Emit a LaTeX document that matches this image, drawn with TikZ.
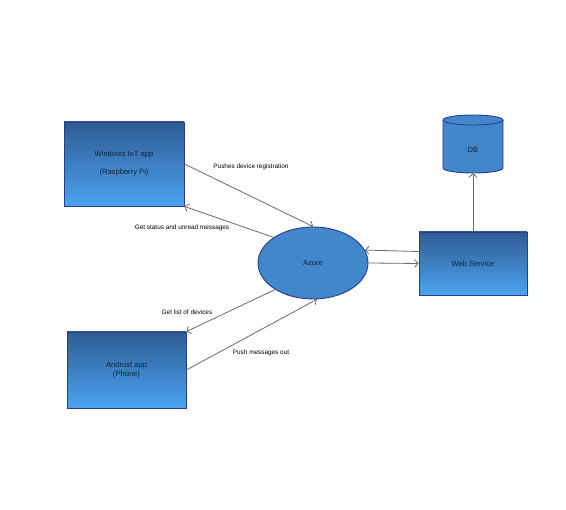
\documentclass[tikz,border=0pt]{standalone}
\usepackage{fontspec}
\setmainfont{Liberation Sans}
\usetikzlibrary{arrows.meta,shapes.geometric}
\definecolor{boxtop}{HTML}{2F5C94}
\definecolor{boxbot}{HTML}{4BA3F0}
\definecolor{boxline}{HTML}{2A3D8A}
\definecolor{ellfill}{HTML}{4286CC}
\definecolor{txt}{HTML}{14213D}
\definecolor{conn}{HTML}{6A6A6A}
\tikzset{
  gbox/.style={rectangle, draw=boxline, line width=0.9pt, top color=boxtop, bottom color=boxbot,
    text=txt, font=\fontsize{7.6}{9}\selectfont, align=center, inner sep=0pt},
  conn/.style={draw=conn, line width=0.8pt, -{Straight Barb[length=3.5pt,width=8pt]}},
  lbl/.style={font=\fontsize{6.4}{7.5}\selectfont, text=black, inner sep=0pt}
}
\begin{document}
\begin{tikzpicture}[x=1pt,y=1pt]
\useasboundingbox (0,0) rectangle (566,510);
% nodes
\node[gbox, minimum width=120pt, minimum height=84pt] (iot) at (124,346) {Windows IoT app\\[9pt](Raspberry Pi)};
\node[gbox, minimum width=119pt, minimum height=76pt] (android) at (126.5,140) {Android app\\(Phone)};
\node[gbox, minimum width=108pt, minimum height=63pt] (ws) at (473,246.5) {Web Service};
\node[ellipse, draw=boxline, line width=0.9pt, fill=ellfill, minimum width=110pt, minimum height=72pt,
  inner sep=0pt, text=txt, font=\fontsize{7.6}{9}\selectfont] (azure) at (313,247) {Azure};
% DB cylinder
\fill[ellfill] (443,390) -- (443,342) arc (180:360:30 and 5) -- (503,390) -- cycle;
\draw[boxline, line width=0.9pt] (443,390) -- (443,342) arc (180:360:30 and 5) -- (503,390);
\draw[boxline, line width=0.9pt, fill=ellfill] (473,390) ellipse (30 and 5);
\node[inner sep=0pt, minimum width=60pt, minimum height=53pt, text=txt, font=\fontsize{7.6}{9}\selectfont] (db) at (473,363.5) {};
\node[inner sep=0pt, text=txt, font=\fontsize{7.6}{9}\selectfont] (dblabel) at (473,360) {DB};
% connectors
\draw[conn] (iot.east) -- (azure.north);
\draw[conn] (azure.147) -- (iot.south east);
\draw[conn] (azure.215) -- (android.north east);
\draw[conn] (android.east) -- (azure.-84);
\draw[conn] ([yshift=12pt]ws.west) -- (azure.14);
\draw[conn] (azure.east) -- (ws.west);
\draw[conn] (ws.north) -- (db.south);
% labels
\node[lbl] (l1) at (251,343) {Pushes device registration};
\node[lbl] (l2) at (182,282) {Get status and unread messages};
\node[lbl] (l3) at (187,198) {Get list of devices};
\node[lbl] (l4) at (261,157) {Push messages out};
\end{tikzpicture}
\end{document}
